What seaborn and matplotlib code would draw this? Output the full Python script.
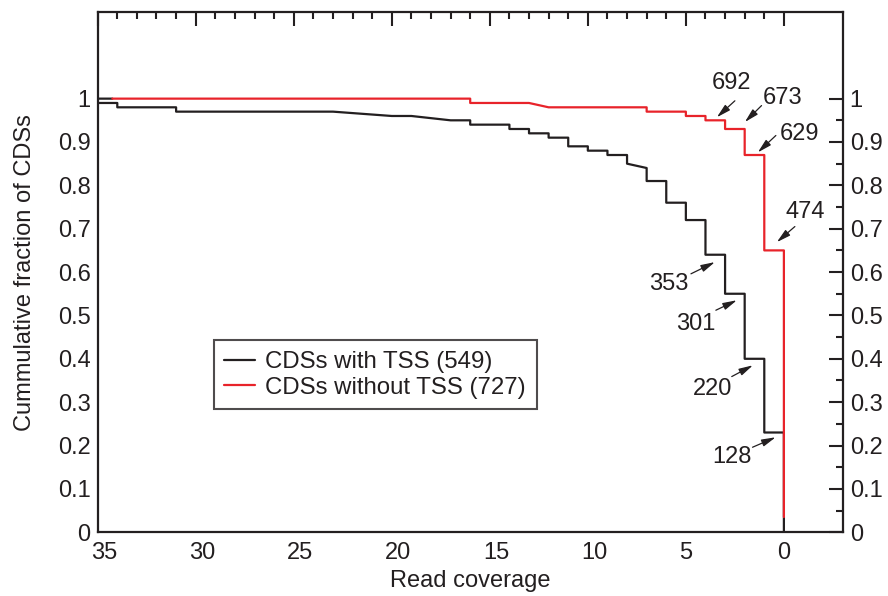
import matplotlib
matplotlib.use("Agg")
import matplotlib.pyplot as plt
import matplotlib.transforms as mtransforms
import seaborn as sns
import pandas as pd
from matplotlib.ticker import FixedLocator

# ---- data (vertices of the cumulative step curves) ----
with_tss_x = [34.25, 35, 35, 34, 34, 31, 31, 23, 20, 19, 17, 16, 16, 14, 14, 13, 13, 12, 12,
              11, 11, 10, 10, 9, 9, 8, 8, 7, 7, 6, 6, 5, 5, 4, 4, 3, 3, 2, 2, 1, 1, 0, 0]
with_tss_y = [1.0, 1.0, 0.99, 0.99, 0.98, 0.98, 0.97, 0.97, 0.96, 0.96, 0.95, 0.95, 0.94, 0.94, 0.93,
              0.93, 0.92, 0.92, 0.91, 0.91, 0.89, 0.89, 0.88, 0.88, 0.87, 0.87, 0.85, 0.84, 0.81,
              0.81, 0.76, 0.76, 0.72, 0.72, 0.64, 0.64, 0.55, 0.55, 0.40, 0.40, 0.23, 0.23, 0.0]
without_tss_x = [34.25, 16, 16, 13, 12, 7, 7, 5, 5, 4, 4, 3, 3, 2, 2, 1, 1, 0, 0]
without_tss_y = [1.0, 1.0, 0.99, 0.99, 0.98, 0.98, 0.97, 0.97, 0.96, 0.96, 0.95, 0.95, 0.93,
                 0.93, 0.87, 0.87, 0.65, 0.65, 0.035]
series_labels = ["CDSs with TSS (549)", "CDSs without TSS (727)"]
series_colors = ["#231f20", "#e8232a"]

x_ticks = [35, 30, 25, 20, 15, 10, 5, 0]
x_ticklabels = ["35", "30", "25", "20", "15", "10", "5", "0"]
y_ticks = [0.0, 0.1, 0.2, 0.3, 0.4, 0.5, 0.6, 0.7, 0.8, 0.9, 1.0]
y_ticklabels = ["0", "0.1", "0.2", "0.3", "0.4", "0.5", "0.6", "0.7", "0.8", "0.9", "1"]

# annotation labels: (text, text_xy, arrow_tail, arrow_head)
annotations = [
    ("692", (2.67, 1.035), (2.5, 0.995), (3.42, 0.957)),
    ("673", (0.05, 1.002), (1.14, 0.984), (1.99, 0.946)),
    ("629", (-0.82, 0.919), (0.41, 0.915), (1.33, 0.876)),
    ("474", (-1.07, 0.738), (-0.56, 0.705), (0.36, 0.669)),
    ("353", (5.88, 0.573), (4.74, 0.596), (3.52, 0.623)),
    ("301", (4.49, 0.481), (3.47, 0.512), (2.40, 0.535)),
    ("220", (3.65, 0.331), (2.66, 0.359), (1.58, 0.385)),
    ("128", (2.65, 0.173), (1.60, 0.196), (0.42, 0.219)),
]

df = pd.concat([
    pd.DataFrame({"x": with_tss_x, "y": with_tss_y, "series": series_labels[0]}),
    pd.DataFrame({"x": without_tss_x, "y": without_tss_y, "series": series_labels[1]}),
], ignore_index=True)

sns.set_theme(style="white")
plt.rcParams["font.family"] = ["Liberation Sans", "DejaVu Sans"]

FS = 17
INK = "#231f20"

fig = plt.figure(figsize=(8.88, 5.96), dpi=100)
ax = fig.add_axes([0.110, 0.107, 0.839, 0.873])

sns.lineplot(data=df, x="x", y="y", hue="series", hue_order=series_labels,
             palette=series_colors, sort=False, estimator=None,
             linewidth=1.6, ax=ax, legend=True)

ax.set_xlim(35, -3)
ax.set_ylim(0, 1.2)

ax.xaxis.set_major_locator(FixedLocator(x_ticks))
ax.xaxis.set_minor_locator(FixedLocator(list(range(0, 36))))
ax.set_xticklabels(x_ticklabels)
ax.yaxis.set_major_locator(FixedLocator(y_ticks))
ax.yaxis.set_minor_locator(FixedLocator([round(0.05 * i, 2) for i in range(21)]))
ax.set_yticklabels(y_ticklabels)

ax.tick_params(which="both", direction="in", top=True, right=True, labelright=True,
               color=INK, width=1.5, labelsize=FS, pad=5, labelcolor=INK)
ax.tick_params(which="major", length=10)
ax.tick_params(which="minor", length=5)
ax.tick_params(axis="x", pad=7)

# x tick labels start just left of their tick (as in the reference)
shift = mtransforms.ScaledTranslation(-6.5 / 100, 0, fig.dpi_scale_trans)
for lab in ax.get_xticklabels():
    lab.set_horizontalalignment("left")
    lab.set_transform(lab.get_transform() + shift)

for s in ax.spines.values():
    s.set_visible(True)
    s.set_linewidth(1.6)
    s.set_color(INK)

ax.set_xlabel("Read coverage", fontsize=FS, color=INK, labelpad=4)
ax.set_ylabel("Cummulative fraction of CDSs", fontsize=FS, color=INK, labelpad=16)

for txt, txy, tail, head in annotations:
    ax.text(txy[0], txy[1], txt, fontsize=FS, ha="center", va="center", color=INK)
    ax.annotate("", xy=head, xytext=tail,
                arrowprops=dict(arrowstyle="-|>,head_length=0.7,head_width=0.18",
                                color=INK, lw=0.9, shrinkA=0, shrinkB=0))

leg = ax.legend(loc="upper left", bbox_to_anchor=(0.1557, 0.369), borderaxespad=0,
                fontsize=17.3, frameon=True, fancybox=False, handlelength=1.25,
                handletextpad=0.45, borderpad=0.45, labelspacing=0.15)
leg.get_frame().set_edgecolor(INK)
leg.get_frame().set_linewidth(1.5)
for t in leg.get_texts():
    t.set_color(INK)
for h in leg.get_lines():
    h.set_linewidth(1.6)

fig.savefig("out.png", dpi=100)
